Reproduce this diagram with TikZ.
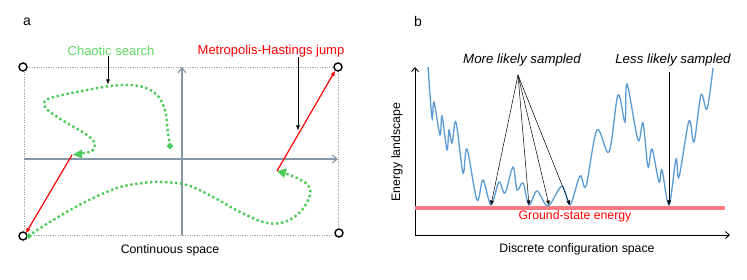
\documentclass[tikz,border=0pt]{standalone}
\usepackage{fontspec}
\setmainfont{Liberation Sans}
\usetikzlibrary{arrows.meta,shapes.geometric}
\definecolor{grn}{HTML}{4CCB58}
\definecolor{grntext}{HTML}{5ED862}
\definecolor{axgray}{HTML}{8497A8}
\definecolor{gsred}{HTML}{FF7C80}
\definecolor{curveblue}{HTML}{5B9BD5}
\tikzset{
  lbl/.style={inner sep=0pt, font=\fontsize{12.3}{14}\selectfont},
  toplbl/.style={inner sep=0pt, font=\fontsize{13}{15}\selectfont},
  itlbl/.style={inner sep=0pt, font=\fontsize{13.3}{15}\selectfont\itshape},
  panel/.style={inner sep=0pt, font=\fontsize{14}{16}\selectfont},
  greenpath/.style={grn, line width=2.4pt, dash pattern=on 2.4pt off 2.6pt, line cap=butt},
  redjump/.style={red, line width=1.2pt, -{Triangle[length=5pt,width=4pt]}},
  ann/.style={black, line width=0.5pt, -{Triangle[length=4.5pt,width=3.5pt]}},
  corner/.style={circle, draw=black, line width=1.4pt, fill=white, minimum size=8pt, inner sep=0pt},
  startmark/.style={diamond, fill=grn, minimum size=0pt, inner sep=0pt},
}
\begin{document}
\begin{tikzpicture}[x=1pt,y=-1pt]
\useasboundingbox (0,0) rectangle (747,280);
% ---------------- panel a ----------------
\node[panel] (pa) at (27,22) {a};
\draw[gray!70, line width=0.5pt, dash pattern=on 1.2pt off 1.2pt] (24,67) rectangle (338,235);
\coordinate (ax0) at (182,235);
\coordinate (ax1) at (182,67);
\coordinate (ay0) at (24,159);
\coordinate (ay1) at (338,159);
\draw[axgray, line width=1.1pt, -{Straight Barb[length=5pt,width=8pt]}] (ax0) -- (ax1);
\draw[axgray, line width=1.1pt, -{Straight Barb[length=5pt,width=8pt]}] (ay0) -- (ay1);
% green path 1
\draw[greenpath] plot[smooth, tension=0.6] coordinates {
 (170,146) (168,133) (165,110) (157,95) (143,87) (127,85) (110,86) (87,90) (67,94) (48,99) (44,105) (50,112) (67,123) (87,135) (95,144) (92,151) (84,153) (79,154)};
\fill[grn] (82,149.5) -- (73,154.5) -- (82,158.5) -- cycle;
% green path 2
\draw[greenpath] plot[smooth, tension=0.6] coordinates {
 (28,236) (50,222) (83,203) (117,188) (143,183) (160,182) (187,185) (213,197) (240,212) (267,223) (287,221) (302,210) (310,195) (308,185) (297,178) (287,174) (283,173)};
\fill[grn] (287,168.5) -- (277,171) -- (284,178) -- cycle;
% corner circles
\node[corner] (c1) at (23,67) {};
\node[corner] (c2) at (338,67) {};
\node[corner] (c3) at (23,236) {};
\node[corner] (c4) at (339,233) {};
\node[startmark, minimum width=7pt, minimum height=7pt] (s1) at (170,146) {};
\node[startmark, minimum width=6pt, minimum height=6pt] (s2) at (29,236) {};
% red jumps
\coordinate (j1a) at (72,155);
\coordinate (j1b) at (26,233);
\coordinate (j2a) at (277,171);
\coordinate (j2b) at (335,71);
\draw[redjump] (j1a) -- (j1b);
\draw[redjump] (j2a) -- (j2b);
% labels
\node[toplbl, text=grntext] (cs) at (111,51) {Chaotic search};
\node[toplbl, text=red] (mh) at (271,51) {Metropolis-Hastings jump};
\coordinate (csT) at (108,84);
\coordinate (mhT) at (298,130);
\draw[ann] (cs.south -| csT) -- (csT);
\draw[ann] (mh.south -| mhT) -- (mhT);
\node[lbl] (cont) at (170,250) {Continuous space};
% ---------------- panel b ----------------
\node[panel] (pb) at (418,21) {b};
\coordinate (o) at (415,235);
\coordinate (yt) at (415,67);
\coordinate (xt) at (730,235);
\draw[line width=0.9pt, -{Straight Barb[length=4pt,width=7pt]}] (o) -- (yt);
\draw[line width=0.9pt, -{Straight Barb[length=4pt,width=7pt]}] (o) -- (xt);
\coordinate (g0) at (415,208);
\coordinate (g1) at (725,208);
\draw[gsred, line width=3.5pt] (g0) -- (g1);
\draw[curveblue, line width=1.3pt] plot[smooth, tension=0.55] coordinates {
 (428,67) (432,118) (434,102) (440,135) (442,116) (447,150) (449,130) (452,143) (456,122) (463,173) (467,149) (477,200) (483,180) (491,205) (499,182) (505,193) (513,167) (517,190) (523,183) (529,205) (537,191) (548,206) (562,186) (570,205) (580,176) (586,186) (597,130) (609,152) (618,95) (625,122) (627,84) (638,140) (643,123) (648,167) (652,149) (659,182) (662,170) (669,205) (676,159) (679,177) (689,121) (694,142) (701,95) (707,109) (713,68)};
\node[lbl, text=red] (gse) at (575,216) {Ground-state energy};
\node[lbl, rotate=90] (el) at (397,152) {Energy landscape};
\node[lbl] (dcs) at (577,249) {Discrete configuration space};
\node[itlbl] (more) at (522,60) {More likely sampled};
\node[itlbl] (less) at (673,60) {Less likely sampled};
\coordinate (mS) at (518,75);
\coordinate (m1) at (491,205);
\coordinate (m2) at (529,205);
\coordinate (m3) at (549,205);
\coordinate (m4) at (570,205);
\coordinate (lS) at (669,72);
\coordinate (l1) at (669,205);
\foreach \t in {m1,m2,m3,m4} \draw[ann] (mS) -- (\t);
\draw[ann] (lS) -- (l1);
\end{tikzpicture}
\end{document}
